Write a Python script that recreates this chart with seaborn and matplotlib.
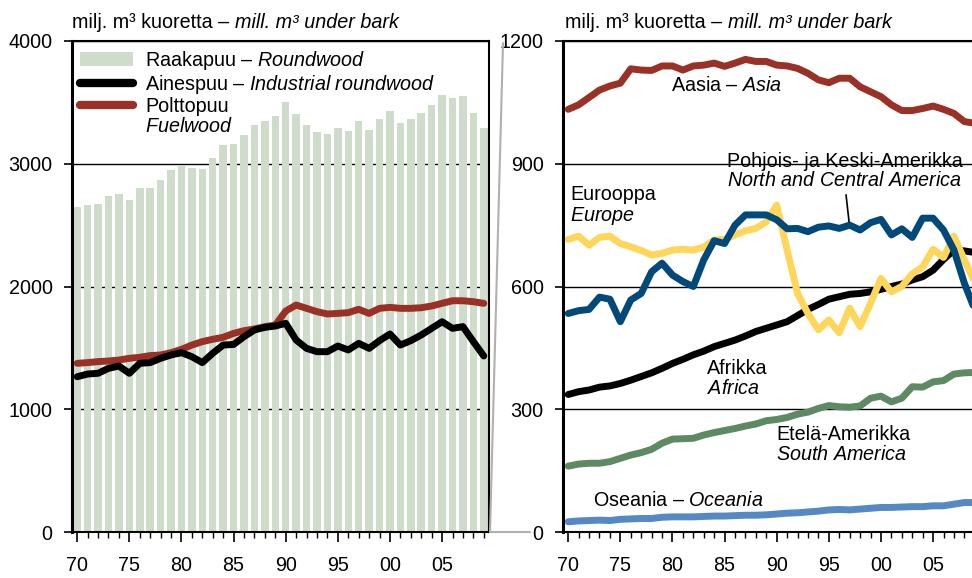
import matplotlib
matplotlib.use("Agg")
import matplotlib.pyplot as plt
from matplotlib.lines import Line2D
from matplotlib.patches import Patch
from matplotlib.ticker import MultipleLocator, FuncFormatter
import seaborn as sns

sns.set_theme(style="white")
plt.rcParams['font.family'] = ['Liberation Sans', 'DejaVu Sans']
plt.rcParams['text.color'] = 'black'
plt.rcParams['mathtext.fontset'] = 'custom'
plt.rcParams['mathtext.rm'] = 'Liberation Sans'
plt.rcParams['mathtext.it'] = 'Liberation Sans:italic'
plt.rcParams['mathtext.bf'] = 'Liberation Sans:bold'

FS = 14.2

years = list(range(1970, 2010))

# world, mill. m3
roundwood = [2650, 2664, 2672, 2737, 2754, 2705, 2805, 2805, 2868, 2949,
             2982, 2968, 2960, 3047, 3153, 3161, 3234, 3316, 3348, 3389,
             3503, 3405, 3316, 3261, 3242, 3291, 3267, 3348, 3275, 3365,
             3430, 3335, 3365, 3414, 3479, 3560, 3536, 3552, 3414, 3291]
industrial = [1265, 1287, 1293, 1333, 1352, 1293, 1374, 1380, 1415, 1442,
              1461, 1428, 1380, 1456, 1523, 1528, 1591, 1646, 1667, 1678,
              1700, 1564, 1496, 1469, 1469, 1515, 1483, 1537, 1496, 1559,
              1613, 1523, 1559, 1605, 1659, 1713, 1659, 1673, 1551, 1434]
fuelwood = [1374, 1380, 1388, 1393, 1401, 1415, 1423, 1437, 1442, 1461,
            1488, 1523, 1551, 1570, 1586, 1618, 1640, 1654, 1673, 1686,
            1800, 1849, 1822, 1795, 1776, 1781, 1787, 1814, 1781, 1822,
            1830, 1822, 1822, 1827, 1841, 1863, 1884, 1884, 1876, 1863]

# by continent
asia = [1033, 1044, 1062, 1080, 1090, 1097, 1132, 1129, 1128, 1139,
        1139, 1129, 1139, 1141, 1146, 1138, 1146, 1155, 1150, 1150,
        1141, 1139, 1133, 1121, 1105, 1098, 1109, 1109, 1088, 1076,
        1064, 1044, 1030, 1030, 1035, 1041, 1033, 1023, 1003, 999]
europe = [715, 723, 701, 720, 723, 705, 697, 688, 677, 681,
          689, 691, 689, 696, 714, 715, 726, 736, 742, 758,
          799, 689, 583, 534, 494, 518, 487, 547, 502, 559,
          620, 587, 600, 631, 648, 691, 671, 723, 665, 610]
n_america = [534, 541, 544, 574, 569, 514, 567, 583, 636, 657,
             628, 612, 600, 665, 712, 705, 750, 775, 775, 775,
             763, 741, 742, 734, 745, 748, 742, 750, 738, 756,
             764, 726, 741, 720, 767, 767, 738, 689, 608, 543]
africa = [336, 343, 347, 354, 357, 363, 371, 380, 389, 400,
          412, 422, 433, 442, 453, 461, 469, 479, 490, 498,
          506, 514, 529, 544, 556, 569, 575, 581, 583, 587,
          593, 600, 606, 616, 624, 640, 666, 689, 687, 683]
s_america = [161, 166, 168, 168, 172, 180, 188, 194, 202, 217,
             227, 228, 229, 237, 243, 248, 253, 259, 264, 272,
             275, 280, 288, 293, 302, 309, 306, 305, 308, 327,
             332, 318, 327, 355, 354, 367, 370, 386, 389, 390]
oceania = [25, 27, 28, 29, 28, 31, 32, 33, 33, 36,
           37, 37, 37, 38, 39, 39, 40, 41, 41, 42,
           44, 46, 47, 49, 51, 54, 55, 54, 56, 58,
           60, 60, 61, 62, 62, 64, 64, 68, 72, 72]

BAR = "#d0dccb"
RED = "#9a3127"

W, H = 972, 578
fig = plt.figure(figsize=(W / 100, H / 100), dpi=100)
ax1 = fig.add_axes([72 / W, 1 - 532 / H, 417 / W, 491 / H])
ax2 = fig.add_axes([563 / W, 1 - 532 / H, 417 / W, 491 / H])

line_kw = dict(lw=5, solid_capstyle="round", solid_joinstyle="round")

sns.barplot(x=years, y=roundwood, native_scale=True, color=BAR, saturation=1,
            width=0.72, linewidth=0, ax=ax1)
sns.lineplot(x=years, y=fuelwood, color=RED, ax=ax1, **line_kw)
sns.lineplot(x=years, y=industrial, color="black", ax=ax1, **line_kw)

for vals, col in [(oceania, "#5589c4"), (s_america, "#5d8a62"),
                  (africa, "black"), (europe, "#ffd65c"),
                  (n_america, "#00497a"), (asia, RED)]:
    sns.lineplot(x=years, y=vals, color=col, ax=ax2, **line_kw)

yr_fmt = FuncFormatter(lambda v, p: "{:02d}".format(int(round(v)) % 100) if v < 2006 else "")
for ax, top, step in [(ax1, 4000, 1000), (ax2, 1200, 300)]:
    ax.set_xlim(1969.5, 2009.5)
    ax.set_ylim(0, top)
    ax.yaxis.set_major_locator(MultipleLocator(step))
    ax.xaxis.set_major_locator(MultipleLocator(5))
    ax.xaxis.set_minor_locator(MultipleLocator(1))
    ax.xaxis.set_major_formatter(yr_fmt)
    ax.yaxis.grid(True, color="black", lw=1)
    ax.set_axisbelow(True)
    ax.tick_params(axis="both", which="both", direction="out", color="black",
                   labelsize=FS, labelcolor="black")
    ax.tick_params(axis="x", which="major", length=7, width=1.2, pad=10, bottom=True)
    ax.tick_params(axis="x", which="minor", length=4, width=1, bottom=True)
    ax.tick_params(axis="y", which="major", length=6, width=1.2, pad=8, left=True)
    ax.set_xlabel("")
    ax.set_ylabel("")
    for s in ax.spines.values():
        s.set_color("black")
        s.set_linewidth(1.5)
    ax.spines["left"].set_linewidth(2.2)

handles = [Patch(facecolor=BAR, edgecolor="none"),
           Line2D([], [], color="black", lw=6, solid_capstyle="round"),
           Line2D([], [], color=RED, lw=6, solid_capstyle="round"),
           Line2D([], [], color="none")]
labels = [r"Raakapuu – $\mathit{Roundwood}$",
          r"Ainespuu – $\mathit{Industrial\ roundwood}$",
          "Polttopuu",
          r"$\mathit{Fuelwood}$"]
ax1.legend(handles, labels, loc="upper left", bbox_to_anchor=(8 / 417, 1 - 8 / 491),
           frameon=False, fontsize=FS, handlelength=2.7, handletextpad=0.6,
           labelspacing=0.05, borderpad=0, borderaxespad=0)

# unit titles: upright part, then italic part right after it
for x0 in (72, 565):
    t = fig.text(x0 / W, 1 - 22 / H, "milj. m³ kuoretta – ", fontsize=FS,
                 ha="left", va="center")
    fig.text(0, 0, "", fontsize=FS)
    ax1.annotate("mill. m³ under bark", xy=(1, 0), xycoords=t, fontsize=FS,
                 fontstyle="italic", ha="left", va="bottom", annotation_clip=False)

txt = dict(fontsize=FS, ha="left", va="center", linespacing=1.05)
ax2.text(1979.86, 1092, r"Aasia – $\mathit{Asia}$", **txt)
ax2.text(1970.17, 797, "Eurooppa\n" + r"$\mathit{Europe}$", **txt)
ax2.text(1985.23, 882, "Pohjois- ja Keski-Amerikka\n" + r"$\mathit{North\ and\ Central\ America}$", **txt)
ax2.text(1983.3, 375, "Afrikka\n" + r"$\mathit{Africa}$", **txt)
ax2.text(1989.93, 214, "Etelä-Amerikka\n" + r"$\mathit{South\ America}$", **txt)
ax2.text(1972.38, 76, r"Oseania – $\mathit{Oceania}$", **txt)
ax2.plot([1996.65, 1996.94], [824, 758], color="black", lw=1.2)

# link between the panels
grey = "#b0b0b0"
fig.add_artist(Line2D([503 / W, 490 / W], [1 - 43 / H, 1 - 532 / H],
                      transform=fig.transFigure, color=grey, lw=1.5))
fig.add_artist(Line2D([490 / W, 530 / W], [1 - 532 / H, 1 - 532 / H],
                      transform=fig.transFigure, color=grey, lw=1.5))

fig.savefig("out.png", dpi=100)
